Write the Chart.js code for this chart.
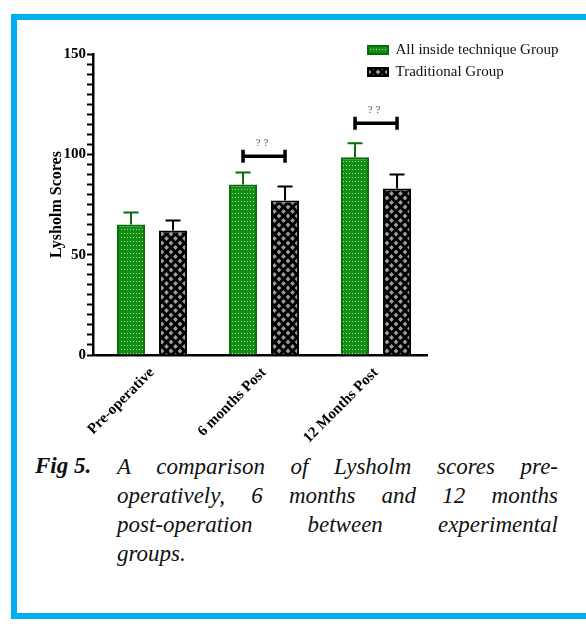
<!DOCTYPE html>
<html>
<head>
<meta charset="utf-8">
<script src="https://cdn.jsdelivr.net/npm/chart.js@4.4.1/dist/chart.umd.min.js"></script>
<style>
  html, body { margin: 0; padding: 0; background: #fff; }
  body { width: 586px; height: 624px; position: relative; overflow: hidden; }
  #frame { position: absolute; left: 11px; top: 14px; width: 600px; height: 605px;
           box-sizing: border-box; border: 6px solid #00b0f0; }
  #wrap { position: absolute; left: 0; top: 0; width: 586px; height: 450px; }
  .cap { position: absolute; font-family: "Liberation Serif", "Times New Roman", serif;
         font-style: italic; color: #111; line-height: 29px; }
  #figno { left: 35px; top: 451px; font-weight: bold; font-size: 23px; }
  #captext { left: 117px; top: 452px; width: 441px; font-size: 23px; }
  #captext .ln { text-align: justify; text-align-last: justify; }
  #captext .ln.last { text-align: left; text-align-last: left; }
</style>
</head>
<body>
<div id="frame"></div>
<div id="wrap"><canvas id="c" width="586" height="450"></canvas></div>
<div class="cap" id="figno">Fig 5.</div>
<div class="cap" id="captext">
  <div class="ln">A comparison of Lysholm scores pre-</div>
  <div class="ln">operatively, 6 months and 12 months</div>
  <div class="ln">post-operation between experimental</div>
  <div class="ln last">groups.</div>
</div>
<script>
// Lysholm scores (mean and SD) per follow-up point
const categories = ['Pre-operative', '6 months Post', '12 Months Post'];
const insideMeans = [65, 85, 98.5];
const insideSD = [6, 6, 7];
const traditionalMeans = [62, 77, 83];
const traditionalSD = [5, 7, 7];
const yTickLabels = [0, 50, 100, 150];

// significance brackets between the two groups
const bracketCategories = [1, 2];
const bracketLevels = [99, 115.5];
const bracketLabels = ['? ?', '? ?'];

const canvas = document.getElementById('c');
const baseCtx = canvas.getContext('2d');

function makeTile(w, h, paint) {
  const t = document.createElement('canvas');
  t.width = w; t.height = h;
  paint(t.getContext('2d'));
  return baseCtx.createPattern(t, 'repeat');
}

// green fill with fine light dots
const greenFill = makeTile(3, 4, g => {
  g.fillStyle = '#128e12'; g.fillRect(0, 0, 3, 4);
  g.fillStyle = '#a6dca6'; g.fillRect(1, 1, 1, 1);
});

// black fill with grey diamond lattice
const checkFill = makeTile(9, 9, g => {
  g.fillStyle = '#000'; g.fillRect(0, 0, 9, 9);
  g.fillStyle = '#9c9c9c';
  const diamond = (cx, cy, r) => {
    g.beginPath();
    g.moveTo(cx, cy - r); g.lineTo(cx + r, cy); g.lineTo(cx, cy + r); g.lineTo(cx - r, cy);
    g.closePath(); g.fill();
  };
  diamond(4.5, 4.5, 2.4);
  [[0, 0], [9, 0], [0, 9], [9, 9]].forEach(p => diamond(p[0], p[1], 2.4));
});

Chart.defaults.font.family = '"Liberation Serif", "Times New Roman", serif';
Chart.defaults.color = '#000';

const errorBars = {
  id: 'errorBars',
  afterDatasetsDraw(chart) {
    const ctx = chart.ctx, y = chart.scales.y;
    chart.data.datasets.forEach((ds, di) => {
      chart.getDatasetMeta(di).data.forEach((bar, i) => {
        const top = y.getPixelForValue(ds.data[i].y + ds.errors[i]);
        ctx.save();
        ctx.strokeStyle = ds.errorColor;
        ctx.lineWidth = 2;
        ctx.beginPath();
        ctx.moveTo(bar.x, bar.y);
        ctx.lineTo(bar.x, top);
        ctx.moveTo(bar.x - 7.5, top);
        ctx.lineTo(bar.x + 7.5, top);
        ctx.stroke();
        ctx.restore();
      });
    });
  }
};

const sigBrackets = {
  id: 'sigBrackets',
  afterDatasetsDraw(chart) {
    const ctx = chart.ctx, y = chart.scales.y;
    const a = chart.getDatasetMeta(0).data, b = chart.getDatasetMeta(1).data;
    bracketCategories.forEach((c, k) => {
      const x1 = a[c].x, x2 = b[c].x;
      const yy = y.getPixelForValue(bracketLevels[k]);
      ctx.save();
      ctx.strokeStyle = '#000';
      ctx.lineWidth = 3.5;
      ctx.beginPath();
      ctx.moveTo(x1, yy); ctx.lineTo(x2, yy);
      ctx.moveTo(x1, yy - 6.5); ctx.lineTo(x1, yy + 6.5);
      ctx.moveTo(x2, yy - 6.5); ctx.lineTo(x2, yy + 6.5);
      ctx.stroke();
      ctx.fillStyle = '#555';
      ctx.font = '11px "Liberation Serif", serif';
      ctx.textAlign = 'center';
      ctx.textBaseline = 'middle';
      ctx.fillText(bracketLabels[k], (x1 + x2) / 2 - 2, yy - 13);
      ctx.restore();
    });
  }
};

// place the legend box at the upper right, outside the plotting area
const legendPlacement = {
  id: 'legendPlacement',
  afterLayout(chart) {
    const lg = chart.legend;
    if (!lg) return;
    const w = lg.width, h = lg.height;
    lg.left = 361; lg.top = 35.5;
    lg.right = lg.left + w; lg.bottom = lg.top + h;
  }
};

const toPoints = values => values.map((v, i) => ({ x: i, y: v }));

new Chart(canvas, {
  type: 'bar',
  data: {
    datasets: [
      {
        label: 'All inside technique Group',
        data: toPoints(insideMeans),
        errors: insideSD,
        errorColor: '#0b6b0b',
        backgroundColor: greenFill,
        borderColor: '#0b6b0b',
        borderWidth: 2
      },
      {
        label: 'Traditional Group',
        data: toPoints(traditionalMeans),
        errors: traditionalSD,
        errorColor: '#000',
        backgroundColor: checkFill,
        borderColor: '#000',
        borderWidth: 2
      }
    ]
  },
  options: {
    responsive: false,
    animation: false,
    devicePixelRatio: 1,
    layout: { padding: { top: 54, right: 159, left: 0, bottom: 0 } },
    datasets: { bar: { categoryPercentage: 0.75, barPercentage: 0.667 } },
    plugins: {
      legend: {
        position: 'chartArea',
        align: 'start',
        labels: {
          boxWidth: 20,
          boxHeight: 8,
          padding: 7,
          color: '#111',
          font: { size: 15, family: '"Liberation Serif", serif' }
        }
      },
      tooltip: { enabled: false }
    },
    scales: {
      x: {
        type: 'linear',
        offset: false,
        min: -0.527,
        max: 2.455,
        grid: { display: false, drawTicks: false },
        border: { display: true, color: '#000', width: 2.5 },
        afterBuildTicks(scale) { scale.ticks = categories.map((c, i) => ({ value: i })); },
        ticks: {
          autoSkip: false,
          minRotation: 45, maxRotation: 45, padding: 9,
          color: '#000',
          font: { size: 15, weight: 'bold' },
          callback: v => (categories[v] !== undefined ? categories[v] : '')
        },
        afterFit(scale) { scale.height = 95; }
      },
      y: {
        min: 0, max: 150,
        grid: { drawOnChartArea: false, drawTicks: true, tickLength: 6, tickWidth: 2, tickColor: '#000' },
        border: { display: true, color: '#000', width: 2.5 },
        ticks: {
          stepSize: 5, autoSkip: false, padding: 1, color: '#000',
          font: { size: 15, weight: 'bold' },
          callback: v => (yTickLabels.includes(v) ? String(v) : '')
        },
        title: {
          display: true,
          text: 'Lysholm Scores',
          color: '#000',
          font: { size: 16, weight: 'bold' },
          padding: { top: 47, bottom: 0 }
        },
        afterFit(scale) { scale.width = 93; }
      }
    }
  },
  plugins: [errorBars, sigBrackets, legendPlacement]
});
</script>
</body>
</html>
